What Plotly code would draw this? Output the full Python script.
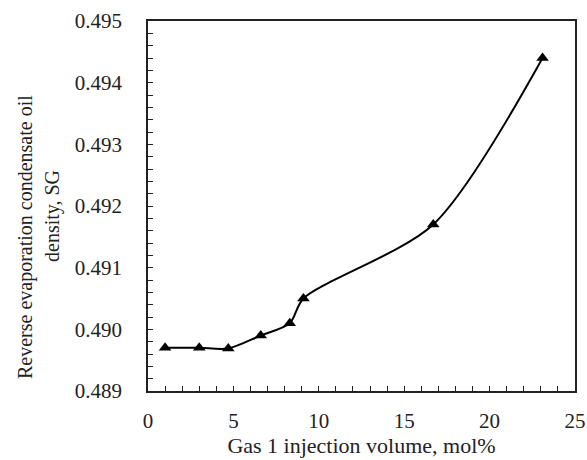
import plotly.graph_objects as go

gas_injection = [1.0, 3.0, 4.7, 6.6, 8.3, 9.1, 16.7, 23.1]
density_sg = [0.4897, 0.4897, 0.48969, 0.4899, 0.4901, 0.4905, 0.4917, 0.4944]

x_ticks = [0, 5, 10, 15, 20, 25]
y_ticks = [0.489, 0.490, 0.491, 0.492, 0.493, 0.494, 0.495]
y_tick_text = ["0.489", "0.490", "0.491", "0.492", "0.493", "0.494", "0.495"]
y_title_lines = ["Reverse evaporation condensate oil", "density, SG"]

font_family = "Liberation Serif"

fig = go.Figure()
fig.add_trace(go.Scatter(
    x=gas_injection, y=density_sg, mode="lines+markers",
    line=dict(color="black", width=2, shape="spline", smoothing=0.8),
    marker=dict(symbol="triangle-up", size=11, color="black"),
    showlegend=False,
))

fig.update_layout(
    width=587, height=460,
    margin=dict(l=148, r=12, t=21, b=69),
    paper_bgcolor="white", plot_bgcolor="white",
    font=dict(family=font_family, size=21, color="#222"),
)
fig.update_xaxes(
    range=[0, 25], tickvals=x_ticks, ticks="inside", ticklen=5, tickwidth=1.2,
    tickcolor="#222", showline=True, linecolor="#222", linewidth=1.5, mirror=True,
    showgrid=False, zeroline=False, automargin=False,
    tickfont=dict(family=font_family, size=21),
    minor=dict(dtick=1, ticks="inside", ticklen=5, tickcolor="#222", tickwidth=1.2),
    title=dict(text="Gas 1 injection volume, mol%", font=dict(family=font_family, size=22), standoff=6),
    ticklabelstandoff=10,
)
fig.update_yaxes(
    range=[0.489, 0.495], tickvals=y_ticks, ticktext=y_tick_text, ticks="inside",
    ticklen=5, tickwidth=1.2, tickcolor="#222", showline=True, linecolor="#222",
    linewidth=1.5, mirror=True, showgrid=False, zeroline=False, automargin=False,
    tickfont=dict(family=font_family, size=21),
    minor=dict(dtick=0.0002, ticks="inside", ticklen=5, tickcolor="#222", tickwidth=1.2),
    ticklabelstandoff=20,
)

# y-axis title as two rotated text lines, placed like the reference
title_pos = [(-123, (391 - 237) / 370), (-95, (391 - 216) / 370)]
for text, (xs, yp) in zip(y_title_lines, title_pos):
    fig.add_annotation(
        text=text, xref="paper", yref="paper", x=0, y=yp, xshift=xs,
        xanchor="center", yanchor="middle", textangle=-90, showarrow=False,
        font=dict(family=font_family, size=20, color="#222"),
    )

fig.write_html("out.html")
